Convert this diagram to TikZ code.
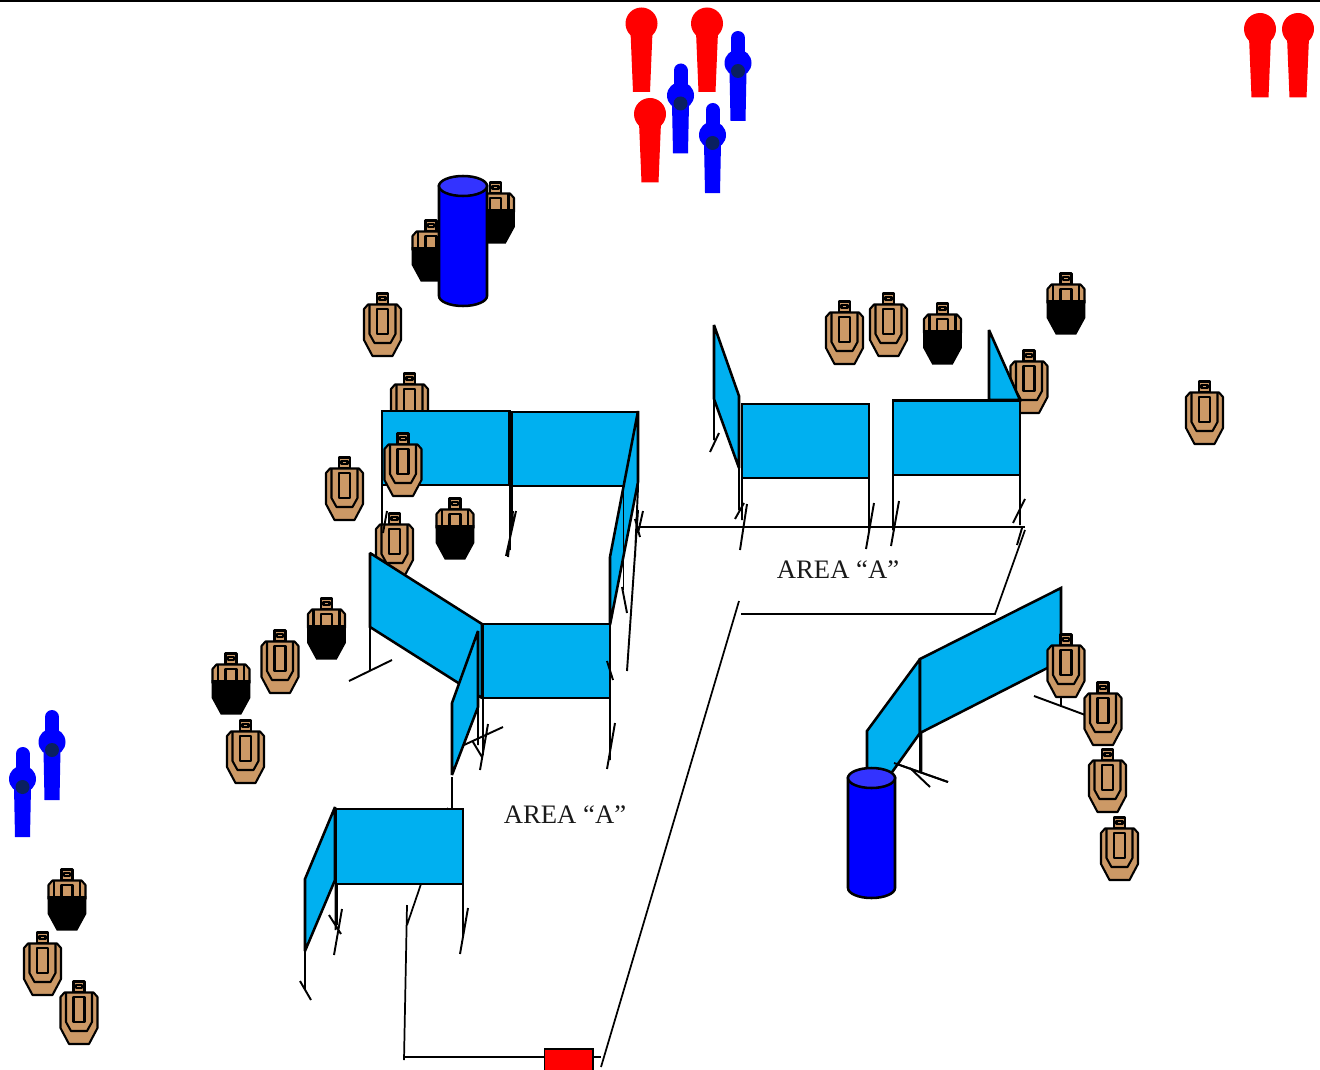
\documentclass[tikz,border=0pt]{standalone}
\usepackage{fontspec}
\setmainfont{Liberation Serif}
\definecolor{panelblue}{HTML}{00B0F0}
\definecolor{tan}{HTML}{CC9966}
\definecolor{cyltop}{HTML}{3333FF}
\definecolor{dotblue}{HTML}{0A2060}
\tikzset{
  panel/.style={fill=panelblue,draw=black,line width=1.9pt,line join=miter,miter limit=2},
  stake/.style={draw=black,line width=1.45pt},
  tape/.style={draw=black,line width=1.3pt},
  tline/.style={draw=black,line width=1.55pt,line join=round},
  cyl/.style={draw=black,line width=1.9pt,fill=blue},
  arealabel/.style={font=\fontsize{20pt}{22pt}\selectfont,text=black!90,inner sep=0pt},
  tgt/.pic={
    \path[tline,fill=tan] (-5.5,0.5) rectangle (5.5,11.5);
    \path[tline,fill=tan] (-14.5,11.5) -- (-18.5,16) -- (-18.5,47) -- (-10,63) -- (10,63) -- (18.5,47) -- (18.5,16) -- (14.5,11.5) -- cycle;
    \path[tline] (-3,4) rectangle (3,7);
    \path[tline] (-13,11.5) -- (-13,41) -- (-8,50) -- (8,50) -- (13,41) -- (13,11.5);
    \path[tline] (-5.5,16) rectangle (5.5,41);
  },
  btgt/.pic={
    \path[tline,fill=tan] (-5.5,0.5) rectangle (5.5,11.5);
    \path[tline,fill=tan] (-14.5,11.5) -- (-18.5,16) -- (-18.5,30) -- (18.5,30) -- (18.5,16) -- (14.5,11.5) -- cycle;
    \path[tline] (-3,4) rectangle (3,7);
    \path[tline] (-13,11.5) -- (-13,30) (13,11.5) -- (13,30);
    \path[tline] (-5.5,16) rectangle (5.5,30);
    \fill[black] (-19.3,27) -- (-19.3,45) -- (-10.3,61.5) -- (10.3,61.5) -- (19.3,45) -- (19.3,27) -- cycle;
  },
  redman/.pic={
    \fill[red] (-11,8) -- (11,8) -- (8.5,68.5) -- (-8.5,68.5) -- cycle;
    \fill[red] (0,0) circle (16);
  },
  blueman/.pic={
    \fill[blue] (-8.5,8) -- (8.5,8) -- (7.5,58) -- (-7.5,58) -- cycle;
    \draw[blue,line width=10.5pt,line cap=round] (0,-25) -- (0,5);
    \fill[blue] (0,0) circle (13.5);
    \fill[dotblue] (0,8) circle (7);
  }
}
\begin{document}
\begin{tikzpicture}[x=0.75pt,y=-0.75pt]
\useasboundingbox (0,0) rectangle (1320,1070);
\clip (0,0) rectangle (1320,1070);
\draw[black,line width=1.6pt] (0,0.5) -- (1320,0.5);

% shooters
\path pic at (641.5,23.5) {redman} pic at (707,23.5) {redman} pic at (650,114) {redman}
      pic at (1260,29) {redman} pic at (1298,29) {redman};
\path pic at (680.5,95.5) {blueman} pic at (738,63) {blueman} pic at (712.5,135) {blueman}
      pic at (52,742) {blueman} pic at (22.5,779) {blueman};

% targets that stand behind the walls
\path pic at (495.5,182) {btgt} pic at (431,220) {btgt} pic at (1066,273) {btgt}
      pic at (942.5,303) {btgt} pic at (455,498) {btgt} pic at (326.5,598) {btgt}
      pic at (231,653) {btgt} pic at (67,869) {btgt};
\path pic at (382.5,293) {tgt} pic at (409.5,373) {tgt} pic at (344.5,457) {tgt}
      pic at (394.5,513) {tgt} pic at (280,630) {tgt} pic at (245.5,720) {tgt}
      pic at (844.5,301) {tgt} pic at (888.5,293) {tgt} pic at (1029,350) {tgt}
      pic at (1204.5,381) {tgt} pic at (1107.5,749) {tgt} pic at (1119.5,817) {tgt}
      pic at (42.5,932) {tgt} pic at (79,981) {tgt};

% stakes and feet
\path[stake]
  (382,485) -- (382,525) (387,511) -- (383,533)
  (510,486) -- (510,550) (512,486) -- (512,520) (516,511) -- (506,556) (513,511) -- (508,557)
  (638,487) -- (635,557) (638,510) -- (627,671)
  (643,511) -- (638,533) (635,519) -- (640,537)
  (622,587) -- (627,613)
  (370,627) -- (370,670) (349,681) -- (392,660)
  (483,698) -- (483,755) (488,724) -- (480,770)
  (478,707) -- (478,745) (473,742) -- (482,757) (464,745) -- (503,727)
  (452,777) -- (452,808) (447,808) -- (449,811)
  (610,698) -- (610,760) (615,723) -- (607,769)
  (335.5,884) -- (335.5,930) (337,884) -- (337,925) (342,909) -- (334,955) (329,915) -- (341,934)
  (463,884) -- (463,935) (468,908) -- (460,954)
  (305,951) -- (305,990) (300,981) -- (311,1000)
  (714,399) -- (714,440) (719,433) -- (710,452)
  (739,467) -- (739,510) (742,478) -- (742,520) (744,503) -- (735,519) (747,504) -- (740,550)
  (869,478) -- (869,530) (874,503) -- (866,549)
  (893,475) -- (893,530) (899,501) -- (891,546)
  (1020,475) -- (1020,525) (1025,499) -- (1013,523) (1022,528) -- (1017,545)
  (1061,690) -- (1061,706) (1034,696) -- (1088,716)
  (920,733) -- (920,773) (921.5,733) -- (921.5,773) (894,763) -- (948,782) (910,768) -- (930,787);

% fault lines
\path[tape] (421,884) -- (407,925) (407,905) -- (404,1060);
\path[tape] (404,1057) -- (544,1057);
\path[tape] (593,1057) -- (601,1057);
\path[tape] (601,1067) -- (739,601);
\path[tape] (741,614) -- (995,614) -- (1025,530);
\path[tape] (640,527) -- (1025,527);

% walls
\path[panel] (382,411) rectangle (509.5,485);
\path[panel] (511.5,412) rectangle (638,486);
\path[panel] (638,411) -- (638,482) -- (610,625) -- (610,557) -- cycle;
\path[stake] (623.5,487) -- (623.5,590);
\path[panel] (370,553) -- (482,624) -- (482,698) -- (370,627) -- cycle;
\path[panel] (483,624) rectangle (610,698);
\path[panel] (478,631) -- (478,707) -- (452,775) -- (452,703) -- cycle;
\path[stake] (607,661) -- (613,680);
\path[panel] (336,809) rectangle (463,884);
\path[panel] (335,807) -- (335,880) -- (305,951) -- (305,879) -- cycle;
\path[panel] (714,325) -- (739,396) -- (739,468) -- (714,399) -- cycle;
\path[panel] (742,404) rectangle (869,478);
\path[panel] (989,330) -- (1020,400) -- (989,400) -- cycle;
\path[panel] (893,400.5) rectangle (1020,475);
\path[panel] (867,731) -- (920,659) -- (920,733) -- (890,775) -- (867,775) -- cycle;
\path[panel] (920,659) -- (1061,588) -- (1061,661) -- (920,733) -- cycle;
\path[stake] (894,763) -- (948,782);

% targets in front of the walls
\path pic at (403,433) {tgt} pic at (1066,634) {tgt} pic at (1103,682) {tgt};

% barrels
\path[cyl] (439,186) -- (439,296) arc[start angle=180,end angle=360,x radius=24,y radius=-10] -- (487,186) -- cycle;
\path[cyl,fill=cyltop] (463,186) ellipse[x radius=24,y radius=10];
\path[cyl] (848,778) -- (848,888) arc[start angle=180,end angle=360,x radius=23.5,y radius=-10] -- (895,778) -- cycle;
\path[cyl,fill=cyltop] (871.5,778) ellipse[x radius=23.5,y radius=10];

% start box
\node[draw=black,line width=1.4pt,fill=red,minimum width=36.5pt,minimum height=18pt,inner sep=0pt,anchor=north west] (startbox) at (543.5,1048) {};

% labels
\node[arealabel] (areaA) at (838,569.5) {AREA “A”};
\node[arealabel] (areaB) at (565,814.5) {AREA “A”};
\end{tikzpicture}
\end{document}
